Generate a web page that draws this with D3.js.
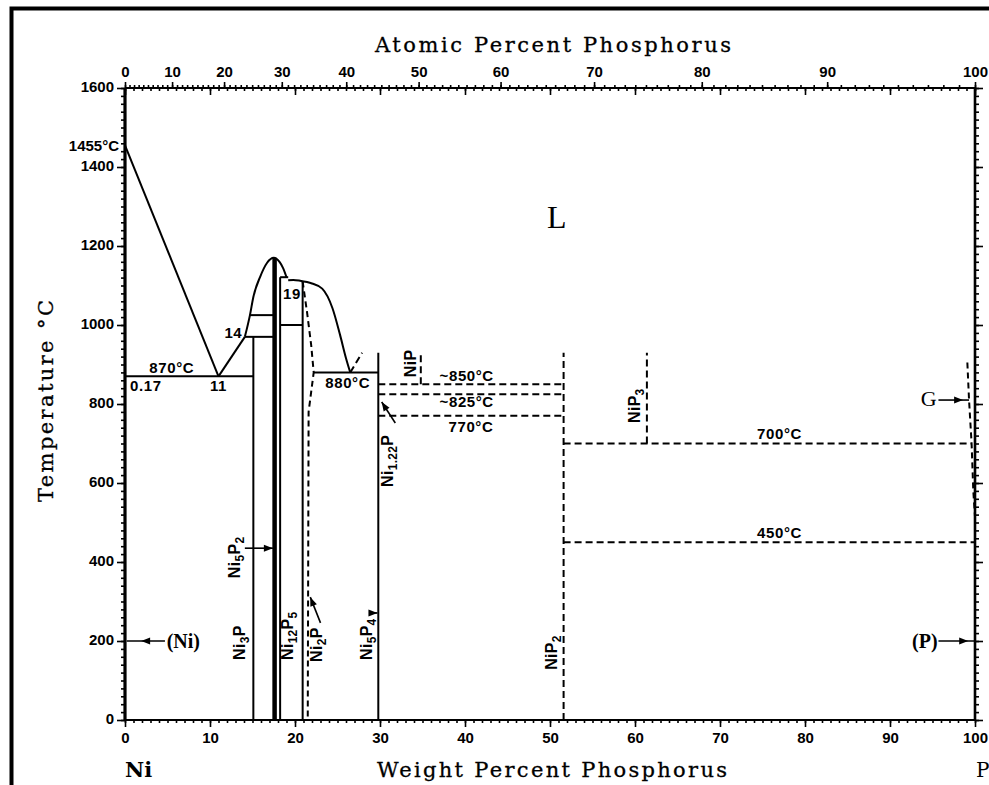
<!DOCTYPE html>
<html>
<head>
<meta charset="utf-8">
<script src="https://cdn.jsdelivr.net/npm/d3@7"></script>
<style>
  body { margin: 0; background: #fff; }
  svg { display: block; }
  .tick text { font-family: "Liberation Sans", Arial, sans-serif; font-weight: bold; font-size: 15px; fill: #000; }
  .tick line { stroke: #000; stroke-width: 1.6px; }
</style>
</head>
<body>
<svg id="chart" width="989" height="785"></svg>
<script>
// ---- axes data ----
const wtMajor = d3.range(0, 101, 10);
const wtMinor = d3.range(0, 101, 1);
const atMajor = d3.range(0, 101, 10);
const atMinor = d3.range(0, 101, 1);
const tempMajor = d3.range(0, 1601, 200);
const tempMinor = d3.range(0, 1601, 20);

// ---- phase boundaries (wt% P, °C) ----
const niLiquidus = [[0, 1455], [11, 870]];
const eutecticRise = [[11, 870], [14.1, 970]];
const ni5p2Dome = [[14.1, 970], [14.7, 1025], [15.1, 1071], [15.9, 1122], [16.7, 1157], [17.5, 1170],
  [18.2, 1159], [18.6, 1144], [19.0, 1121]];
const ni2pDome = [[19.2, 1113], [19.8, 1114], [20.6, 1112], [22.0, 1105], [23.2, 1092], [24.4, 1043],
  [25.3, 975], [26.0, 916], [26.5, 880]];
const ni2pBoundary = [[20.9, 1110], [21.4, 1035], [21.9, 950], [22.2, 880], [21.6, 780], [21.5, 0]];
const gasBoundary = [[99.1, 905], [99.3, 810], [99.6, 700], [99.8, 580], [100, 515], [100, 450]];

const solidSegments = [
  [[0, 870], [15.1, 870]],
  [[15.1, 0], [15.1, 970]],
  [[14.1, 970], [17.6, 970]],
  [[14.7, 1025], [17.6, 1025]],
  [[18.25, 0], [18.25, 1121]],
  [[18.25, 1121], [19.2, 1121]],
  [[18.25, 1000], [20.9, 1000]],
  [[20.9, 0], [20.9, 1110]],
  [[22.2, 880], [29.8, 880]],
  [[29.8, 0], [29.8, 930]]
];
const ni5p2Line = [[17.6, 0], [17.6, 1170]];

const dashedSegments = [
  [[26.5, 880], [27.9, 930]],
  [[34.8, 850], [34.8, 930]],
  [[29.8, 850], [51.6, 850]],
  [[29.8, 825], [51.6, 825]],
  [[29.8, 770], [51.6, 770]],
  [[51.6, 0], [51.6, 930]],
  [[61.4, 700], [61.4, 930]],
  [[51.6, 700], [99.6, 700]],
  [[51.6, 450], [100, 450]]
];

// ---- labels ----
const phaseNames = ["Ni_3P", "Ni_5P_2", "Ni_{12}P_5", "Ni_2P", "Ni_5P_4", "NiP_2", "NiP_3", "NiP", "Ni_{1.22}P"];
const phaseAt = [[14.1, 152], [13.5, 359], [19.8, 152], [23.2, 147], [29.1, 152], [50.8, 127], [60.6, 752], [34.2, 868], [31.5, 590]];

const tempTexts = ["870°C", "0.17", "11", "14", "19", "880°C", "~850°C", "~825°C", "770°C", "700°C", "450°C"];
const tempAt = [[5.5, 878], [0.6, 833], [11, 833], [13.8, 968], [18.6, 1066], [26.2, 840], [40.2, 858], [40.2, 793], [40.7, 730], [77, 712], [77, 462]];
const tempAnchor = ["middle", "start", "middle", "end", "start", "middle", "middle", "middle", "middle", "middle", "middle"];

const arrows = [
  { from: [4.7, 200], to: [0.2, 200], head: [1.9, 200] },
  { from: [14.1, 435], to: [17.4, 435], head: [17.4, 435] },
  { from: [23.0, 246], to: [21.8, 311], head: [21.8, 311] },
  { from: [29.0, 271], to: [29.7, 271], head: [29.7, 271] },
  { from: [31.8, 752], to: [30.2, 805], head: [30.2, 805] },
  { from: [95.7, 810], to: [99.3, 810], head: [98.6, 810] },
  { from: [95.7, 200], to: [100, 200], head: [99.2, 200] }
];

// ---- scales ----
const svg = d3.select("#chart");
const margin = { top: 88, right: 14, bottom: 65, left: 125 };
const W = 989, H = 785;
const x = d3.scaleLinear().domain([0, 100]).range([margin.left, W - margin.right]);
const y = d3.scaleLinear().domain([0, 1600]).range([H - margin.bottom, margin.top]);

const M_NI = 58.69, M_P = 30.974;
const atToWt = a => 100 * a * M_P / (a * M_P + (100 - a) * M_NI);
const atGrid = d3.range(0, 100.01, 0.5);
const xAt = d3.scaleLinear().domain(atGrid).range(atGrid.map(a => x(atToWt(a))));

svg.append("rect").attr("width", W).attr("height", H).attr("fill", "#fff");

// outer frame
svg.append("path").attr("d", `M11.5,${H}V8.5H${W}`).attr("fill", "none")
  .attr("stroke", "#000").attr("stroke-width", 4);

// ---- axes ----
function tickAxis(axis, transform, noText) {
  const g = svg.append("g").attr("transform", transform).call(axis);
  g.select(".domain").remove();
  if (noText) g.selectAll("text").remove();
  return g;
}
const x0 = x(0), x1 = x(100), y0 = y(0), y1 = y(1600);

tickAxis(d3.axisLeft(y).tickValues(tempMinor).tickSize(4), `translate(${x0},0)`, true);
tickAxis(d3.axisLeft(y).tickValues(tempMajor).tickSize(8).tickPadding(3).tickFormat(d3.format("d")), `translate(${x0},0)`)
  .selectAll("text").attr("dy", "0.2em");
tickAxis(d3.axisRight(y).tickValues(tempMinor).tickSize(4), `translate(${x1},0)`, true);
tickAxis(d3.axisRight(y).tickValues(tempMajor).tickSize(8), `translate(${x1},0)`, true);

tickAxis(d3.axisBottom(x).tickValues(wtMinor).tickSize(3), `translate(0,${y0})`, true);
tickAxis(d3.axisBottom(x).tickValues(wtMajor).tickSize(7).tickPadding(5).tickFormat(d3.format("d")), `translate(0,${y0})`);

tickAxis(d3.axisTop(xAt).tickValues(atMinor).tickSize(3), `translate(0,${y1})`, true);
tickAxis(d3.axisTop(xAt).tickValues(atMajor).tickSize(6).tickPadding(5).tickFormat(d3.format("d")), `translate(0,${y1})`);
tickAxis(d3.axisBottom(x).tickValues(wtMinor).tickSize(3), `translate(0,${y1})`, true);
tickAxis(d3.axisBottom(x).tickValues(wtMajor).tickSize(7), `translate(0,${y1})`, true);

const frame = svg.append("g").attr("stroke", "#000").attr("fill", "none");
frame.append("line").attr("x1", x0).attr("x2", x0).attr("y1", y1).attr("y2", y0).attr("stroke-width", 3.2);
frame.append("line").attr("x1", x1).attr("x2", x1).attr("y1", y1).attr("y2", y0).attr("stroke-width", 2.6);
frame.append("line").attr("x1", x0).attr("x2", x1).attr("y1", y1).attr("y2", y1).attr("stroke-width", 2);
frame.append("line").attr("x1", x0).attr("x2", x1).attr("y1", y0).attr("y2", y0).attr("stroke-width", 2);

// ---- axis titles ----
const serif = "'DejaVu Serif', 'Liberation Serif', serif";
svg.append("text").attr("x", 553).attr("y", 52).attr("text-anchor", "middle")
  .attr("font-family", serif).attr("font-size", 21).attr("textLength", 356).attr("lengthAdjust", "spacing")
  .attr("stroke", "#000").attr("stroke-width", 0.3)
  .text("Atomic Percent Phosphorus");
svg.append("text").attr("x", 552).attr("y", 777).attr("text-anchor", "middle")
  .attr("font-family", serif).attr("font-size", 21).attr("textLength", 350).attr("lengthAdjust", "spacing")
  .attr("stroke", "#000").attr("stroke-width", 0.3)
  .text("Weight Percent Phosphorus");
svg.append("text").attr("transform", "translate(53,401) rotate(-90)").attr("text-anchor", "middle")
  .attr("font-family", serif).attr("font-size", 21).attr("textLength", 202).attr("lengthAdjust", "spacing")
  .attr("stroke", "#000").attr("stroke-width", 0.3)
  .text("Temperature °C");
svg.append("text").attr("x", x0).attr("y", 777).attr("font-family", serif).attr("font-size", 21)
  .attr("font-weight", "bold").text("Ni");
svg.append("text").attr("x", x1 + 1).attr("y", 777).attr("font-family", serif).attr("font-size", 20)
  .text("P");

// ---- phase lines ----
const line = d3.line().x(d => x(d[0])).y(d => y(d[1]));
const curve = d3.line().x(d => x(d[0])).y(d => y(d[1])).curve(d3.curveMonotoneX);
const lines = svg.append("g").attr("fill", "none").attr("stroke", "#000").attr("stroke-width", 2);

lines.append("path").attr("d", line(niLiquidus));
lines.append("path").attr("d", line(eutecticRise));
lines.append("path").attr("d", curve(ni5p2Dome));
lines.append("path").attr("d", curve(ni2pDome));
solidSegments.forEach(s => lines.append("path").attr("d", line(s)));
lines.append("path").attr("d", line(ni5p2Line)).attr("stroke-width", 4.5);

lines.append("path").attr("d", line(ni2pBoundary)).attr("stroke-dasharray", "6,4");
lines.append("path").attr("d", line(gasBoundary)).attr("stroke-dasharray", "6,4");
dashedSegments.forEach(s => lines.append("path").attr("d", line(s)).attr("stroke-dasharray", "7,4"));

// ---- labels ----
const sans = "'Liberation Sans', Arial, sans-serif";
function richText(sel, str) {
  const re = /_\{([^}]*)\}|_(.)|([^_]+)/g;
  let m, shifted = false;
  while ((m = re.exec(str))) {
    if (m[3] !== undefined) {
      const ts = sel.append("tspan").text(m[3]);
      if (shifted) { ts.attr("dy", -4); shifted = false; }
    } else {
      const ts = sel.append("tspan").text(m[1] !== undefined ? m[1] : m[2]).attr("font-size", 12);
      if (!shifted) { ts.attr("dy", 4); shifted = true; }
    }
  }
}

phaseNames.forEach((name, i) => {
  const t = svg.append("text")
    .attr("transform", `translate(${x(phaseAt[i][0])},${y(phaseAt[i][1])}) rotate(-90)`)
    .attr("font-family", sans).attr("font-weight", "bold").attr("font-size", 16)
    .attr("letter-spacing", 0.3);
  richText(t, name);
});

tempTexts.forEach((txt, i) => {
  svg.append("text").attr("x", x(tempAt[i][0])).attr("y", y(tempAt[i][1]))
    .attr("text-anchor", tempAnchor[i])
    .attr("font-family", sans).attr("font-weight", "bold").attr("font-size", 15)
    .attr("letter-spacing", 0.6).text(txt);
});

svg.append("text").attr("x", x0 - 6).attr("y", y(1455) + 6).attr("text-anchor", "end")
  .attr("font-family", sans).attr("font-weight", "bold").attr("font-size", 15).text("1455°C");

svg.append("text").attr("x", x(50.8)).attr("y", y(1245)).attr("text-anchor", "middle")
  .attr("font-family", "'Liberation Serif', serif").attr("font-size", 32).text("L");

const serifLbl = "'Liberation Serif', serif";
svg.append("text").attr("x", x(4.9)).attr("y", y(183)).attr("font-family", serifLbl)
  .attr("font-weight", "bold").attr("font-size", 20).text("(Ni)");
svg.append("text").attr("x", x(95.6)).attr("y", y(183)).attr("text-anchor", "end")
  .attr("font-family", serifLbl).attr("font-weight", "bold").attr("font-size", 20).text("(P)");
svg.append("text").attr("x", x(95.5)).attr("y", y(795)).attr("text-anchor", "end")
  .attr("font-family", serifLbl).attr("font-size", 22).text("G");

// ---- arrows ----
const ag = svg.append("g");
arrows.forEach(a => {
  const fx = x(a.from[0]), fy = y(a.from[1]), tx = x(a.to[0]), ty = y(a.to[1]);
  ag.append("line").attr("x1", fx).attr("y1", fy).attr("x2", tx).attr("y2", ty)
    .attr("stroke", "#000").attr("stroke-width", 1.6);
  const ang = Math.atan2(ty - fy, tx - fx) * 180 / Math.PI;
  ag.append("path").attr("d", "M0,0L-9,-3.5L-9,3.5Z").attr("fill", "#000")
    .attr("transform", `translate(${x(a.head[0])},${y(a.head[1])}) rotate(${ang})`);
});
</script>
</body>
</html>
